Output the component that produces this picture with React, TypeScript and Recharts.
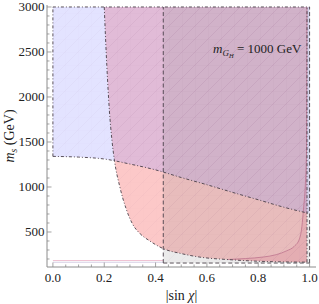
import React from 'react';
import { ComposedChart, Area, Line, XAxis, YAxis, ReferenceDot } from 'recharts';

// ---------- data ----------
const TOP = 3000;

// lower boundary of the blue (lavender) region
const blueX = [0, 0.1, 0.2, 0.3, 0.4, 0.5, 0.6, 0.7, 0.8, 0.9, 1.0];
const blueLow = [1340, 1332, 1311, 1255, 1190, 1105, 1025, 940, 858, 775, 705];

// left / lower boundary of the pink region
const pinkX = [0.2, 0.21, 0.22, 0.23, 0.24, 0.26, 0.285, 0.31, 0.34, 0.375, 0.43, 0.5, 0.57, 0.69, 0.83, 0.99];
const pinkLow = [3000, 2350, 1850, 1520, 1290, 1010, 760, 590, 480, 405, 315, 260, 222, 192, 172, 165];

// darker pink region under the thin solid curve (lower right)
const darkX = [0.68, 0.75, 0.82, 0.87, 0.91, 0.94, 0.96, 0.97, 0.977, 0.983, 0.988, 0.99];
const darkHigh = [194, 205, 222, 248, 290, 340, 420, 560, 780, 1000, 1400, 3000];
const darkLow = [194, 184, 175, 171, 168, 167, 166, 166, 165, 165, 165, 165];

// gray rectangle region
const grayX = [0.43, 1.0];
const grayLow = 155;

// thin bands near the bottom
const bandX = [0, 0.43];
const pinkBandY = 183;
const lavBandY = 164;

// ticks
const xMajor = [0, 0.2, 0.4, 0.6, 0.8, 1.0];
const xMajorLabels = ['0.0', '0.2', '0.4', '0.6', '0.8', '1.0'];
const xTicks = [0, 0.05, 0.1, 0.15, 0.2, 0.25, 0.3, 0.35, 0.4, 0.45, 0.5, 0.55, 0.6, 0.65, 0.7, 0.75, 0.8, 0.85, 0.9, 0.95, 1.0];
const yMajor = [500, 1000, 1500, 2000, 2500, 3000];
const yMajorLabels = ['500', '1000', '1500', '2000', '2500', '3000'];
const yTicks = [200, 300, 400, 500, 600, 700, 800, 900, 1000, 1100, 1200, 1300, 1400, 1500, 1600, 1700, 1800, 1900, 2000, 2100, 2200, 2300, 2400, 2500, 2600, 2700, 2800, 2900, 3000];

// ---------- derived tables ----------
const blueData = blueX.map((x, i) => ({ x, r: [blueLow[i], TOP], y: blueLow[i] }));
const pinkData = pinkX.map((x, i) => ({ x, r: [pinkLow[i], TOP], y: pinkLow[i] }));
const darkData = darkX.map((x, i) => ({ x, r: [darkLow[i], darkHigh[i]], y: darkHigh[i] }));
const grayData = grayX.map((x) => ({ x, r: [grayLow, TOP] }));

const seg = (x1: number, y1: number, x2: number, y2: number) => [{ x: x1, y: y1 }, { x: x2, y: y2 }];

const SERIF = "'Liberation Serif', 'DejaVu Serif', serif";
const FRAME = '#8c8c8c';
const EDGE = '#4a4048';
const DASHDOT = '3 2 1 2';
const DASH = '4 2.5';

const X_DOMAIN: [number, number] = [-0.023, 1.025];
const Y_DOMAIN: [number, number] = [111, 3022];

const near = (a: number, b: number) => Math.abs(a - b) < 1e-6;

const XTick = (props: any) => {
  const { x, y, payload, side } = props;
  const v = payload.value as number;
  const idx = xMajor.findIndex((m) => near(m, v));
  const major = idx >= 0;
  const len = major ? 4.5 : 2.5;
  const dir = side === 'top' ? 1 : -1;
  return (
    <g>
      <line x1={x} x2={x} y1={y} y2={y + dir * len} stroke={FRAME} strokeWidth={0.8} />
      {major && side !== 'top' && (
        <text x={x} y={y + 14.5} textAnchor="middle" fontSize={13} fontFamily={SERIF} fill="#222">
          {xMajorLabels[idx]}
        </text>
      )}
    </g>
  );
};

const YTick = (props: any) => {
  const { x, y, payload, side } = props;
  const v = payload.value as number;
  const idx = yMajor.findIndex((m) => near(m, v));
  const major = idx >= 0;
  const len = major ? 4.5 : 2.5;
  const dir = side === 'right' ? -1 : 1;
  return (
    <g>
      <line x1={x} x2={x + dir * len} y1={y} y2={y} stroke={FRAME} strokeWidth={0.8} />
      {major && side !== 'right' && (
        <text x={x - 2.5} y={y + 4.5} textAnchor="end" fontSize={13} fontFamily={SERIF} fill="#222">
          {yMajorLabels[idx]}
        </text>
      )}
    </g>
  );
};

const YLabel = (props: any) => {
  const vb = props.viewBox || { x: 0, y: 5, width: 47, height: 262 };
  const cx = vb.x + 13.5;
  const cy = vb.y + vb.height / 2;
  return (
    <text x={cx} y={cy} transform={`rotate(-90, ${cx}, ${cy})`} textAnchor="middle" fontSize={14} fontFamily={SERIF} fill="#222">
      <tspan fontStyle="italic">m</tspan>
      <tspan fontStyle="italic" fontSize={9.5} dy={3}>s</tspan>
      <tspan dy={-3}> (GeV)</tspan>
    </text>
  );
};

const XLabel = (props: any) => {
  const vb = props.viewBox || { x: 47, y: 267, width: 269, height: 37 };
  const cx = vb.x + vb.width / 2;
  const cy = vb.y + 33;
  return (
    <text x={cx} y={cy} textAnchor="middle" fontSize={14} fontFamily={SERIF} fill="#222">
      |sin <tspan fontStyle="italic">χ</tspan>|
    </text>
  );
};

const MassLabel = (props: any) => {
  const vb = props.viewBox || { x: 0, y: 0 };
  const x = vb.x + (vb.width || 0) / 2;
  const y = vb.y + (vb.height || 0) / 2;
  return (
    <text x={x} y={y} textAnchor="start" fontSize={13} fontFamily={SERIF} fill="#222">
      <tspan fontStyle="italic">m</tspan>
      <tspan fontStyle="italic" fontSize={9} dy={3}>G</tspan>
      <tspan fontStyle="italic" fontSize={6.5} dy={2}>H</tspan>
      <tspan dy={-5}> = 1000 GeV</tspan>
    </text>
  );
};

export default function App() {
  const common = { isAnimationActive: false, dot: false, activeDot: false } as any;
  return (
    <div style={{ position: 'absolute', left: 0, top: 0 }}>
      <ComposedChart width={319} height={304} margin={{ top: 5, right: 3, bottom: 0, left: 0 }}>
        <defs>
          <pattern id="hatch" patternUnits="userSpaceOnUse" width="13" height="13">
            <path d="M0,13 L13,0" stroke="rgba(120,60,110,0.09)" strokeWidth="0.7" fill="none" />
            <path d="M0,0 L0,13 M0,0 L13,0" stroke="rgba(120,60,110,0.05)" strokeWidth="0.6" fill="none" />
          </pattern>
        </defs>
        <XAxis
          dataKey="x"
          type="number"
          domain={X_DOMAIN}
          allowDataOverflow
          ticks={xTicks}
          interval={0}
          tickSize={0}
          tickMargin={0}
          tickLine={false}
          axisLine={{ stroke: FRAME }}
          height={37}
          tick={(p: any) => <XTick {...p} side="bottom" />}
          label={<XLabel />}
        />
        <XAxis
          xAxisId="top"
          orientation="top"
          dataKey="x"
          type="number"
          domain={X_DOMAIN}
          allowDataOverflow
          ticks={xTicks}
          interval={0}
          tickSize={0}
          tickMargin={0}
          tickLine={false}
          axisLine={{ stroke: FRAME }}
          height={0}
          tick={(p: any) => <XTick {...p} side="top" />}
        />
        <YAxis
          type="number"
          domain={Y_DOMAIN}
          allowDataOverflow
          ticks={yTicks}
          interval={0}
          tickSize={0}
          tickMargin={0}
          tickLine={false}
          axisLine={{ stroke: FRAME }}
          width={47}
          tick={(p: any) => <YTick {...p} side="left" />}
          label={<YLabel />}
        />
        <YAxis
          yAxisId="right"
          orientation="right"
          type="number"
          domain={Y_DOMAIN}
          allowDataOverflow
          ticks={yTicks}
          interval={0}
          tickSize={0}
          tickMargin={0}
          tickLine={false}
          axisLine={{ stroke: FRAME }}
          width={0}
          tick={(p: any) => <YTick {...p} side="right" />}
        />

        {/* pink region */}
        <Area {...common} data={pinkData} dataKey="r" type="monotoneX" stroke="none" fill="rgb(245,72,72)" fillOpacity={0.3} />
        {/* darker pink strip under solid curve */}
        <Area {...common} data={darkData} dataKey="r" type="monotoneX" stroke="none" fill="rgb(210,60,110)" fillOpacity={0.12} />
        {/* blue region */}
        <Area {...common} data={blueData} dataKey="r" type="monotoneX" stroke="none" fill="rgb(150,150,255)" fillOpacity={0.27} />
        {/* gray region */}
        <Area {...common} data={grayData} dataKey="r" type="linear" stroke="none" fill="rgb(128,128,128)" fillOpacity={0.16} />

        {/* hatch overlays */}
        <Area {...common} data={pinkData} dataKey="r" type="monotoneX" stroke="none" fill="url(#hatch)" />
        <Area {...common} data={blueData} dataKey="r" type="monotoneX" stroke="none" fill="url(#hatch)" />
        <Area {...common} data={grayData} dataKey="r" type="linear" stroke="none" fill="url(#hatch)" />

        {/* bottom thin bands */}
        <Line {...common} data={seg(bandX[0], pinkBandY, bandX[1], pinkBandY)} dataKey="y" type="linear" stroke="#efc3d3" strokeWidth={1.2} />
        <Line {...common} data={seg(bandX[0], lavBandY, bandX[1], lavBandY)} dataKey="y" type="linear" stroke="#d6cfe4" strokeWidth={1.2} />

        {/* thin solid curve */}
        <Line {...common} data={darkData} dataKey="y" type="monotoneX" stroke="#b86a86" strokeWidth={0.7} />

        {/* gray rectangle edges (dashed) */}
        <Line {...common} data={seg(grayX[0], grayLow, grayX[0], TOP)} dataKey="y" type="linear" stroke={EDGE} strokeWidth={0.9} strokeDasharray={DASH} />
        <Line {...common} data={seg(grayX[0], grayLow, grayX[1], grayLow)} dataKey="y" type="linear" stroke={EDGE} strokeWidth={0.9} strokeDasharray={DASH} />
        <Line {...common} data={seg(grayX[1], grayLow, grayX[1], TOP)} dataKey="y" type="linear" stroke={EDGE} strokeWidth={0.9} strokeDasharray={DASH} />

        {/* blue region edges (dash-dot) */}
        <Line {...common} data={blueData} dataKey="y" type="monotoneX" stroke={EDGE} strokeWidth={0.9} strokeDasharray={DASHDOT} />
        <Line {...common} data={seg(0, blueLow[0], 0, TOP)} dataKey="y" type="linear" stroke={EDGE} strokeWidth={0.9} strokeDasharray={DASHDOT} />
        <Line {...common} data={seg(0, TOP, 1, TOP)} dataKey="y" type="linear" stroke={EDGE} strokeWidth={0.9} strokeDasharray={DASHDOT} />

        {/* pink region edges (dash-dot) */}
        <Line {...common} data={pinkData} dataKey="y" type="monotoneX" stroke={EDGE} strokeWidth={0.9} strokeDasharray={DASHDOT} />
        <Line {...common} data={seg(0.99, pinkLow[pinkLow.length - 1], 0.99, TOP)} dataKey="y" type="linear" stroke={EDGE} strokeWidth={0.9} strokeDasharray={DASHDOT} />

        <ReferenceDot x={0.624} y={2489} r={0} fill="none" stroke="none" label={<MassLabel />} />
      </ComposedChart>
    </div>
  );
}
